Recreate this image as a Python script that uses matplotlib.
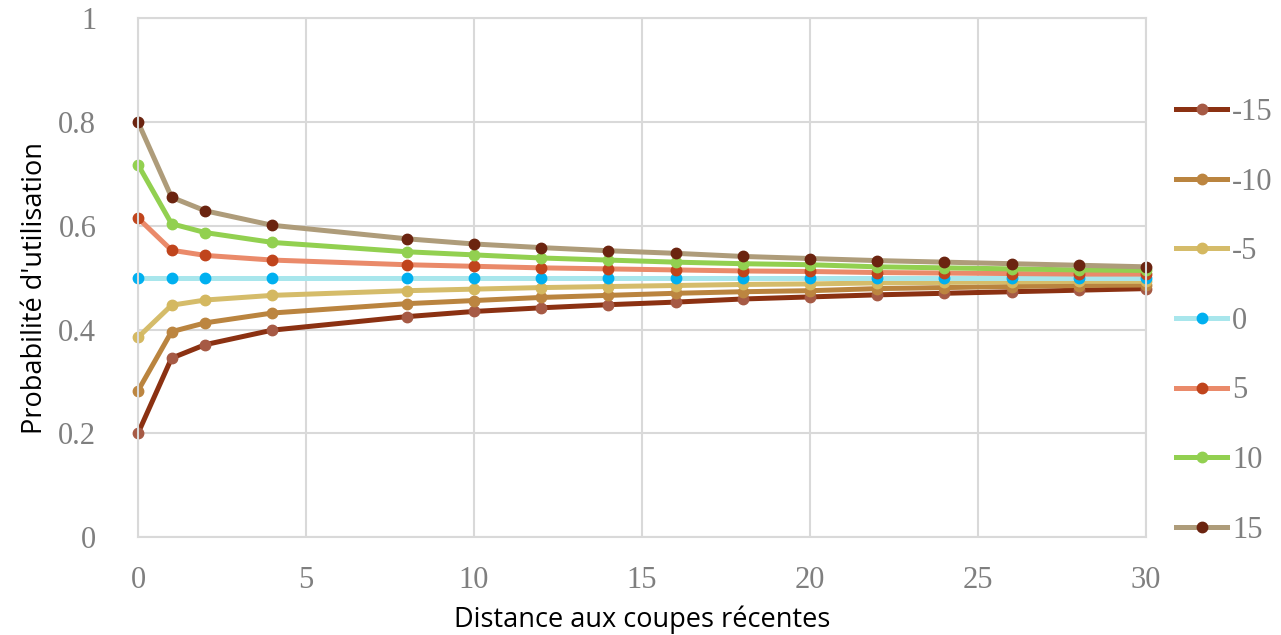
import matplotlib.pyplot as plt
from matplotlib.ticker import FuncFormatter

# distance to recent cuts (x) and usage probability per series
distance = [0, 1, 2, 4, 8, 10, 12, 14, 16, 18, 20, 22, 24, 26, 28, 30]

series_labels = ['-15', '-10', '-5', '0', '5', '10', '15']

p_m15 = [0.200, 0.345, 0.371, 0.399, 0.425, 0.435, 0.442, 0.448, 0.453, 0.459, 0.463, 0.467, 0.470, 0.473, 0.476, 0.479]
p_m10 = [0.282, 0.396, 0.413, 0.432, 0.450, 0.456, 0.462, 0.466, 0.470, 0.473, 0.475, 0.479, 0.481, 0.483, 0.485, 0.486]
p_m5 = [0.385, 0.447, 0.457, 0.466, 0.475, 0.478, 0.481, 0.483, 0.485, 0.487, 0.488, 0.490, 0.491, 0.492, 0.493, 0.493]
p_0 = [0.500] * 16
p_5 = [0.615, 0.553, 0.543, 0.534, 0.525, 0.522, 0.519, 0.517, 0.515, 0.513, 0.512, 0.510, 0.509, 0.508, 0.507, 0.507]
p_10 = [0.718, 0.604, 0.587, 0.568, 0.550, 0.544, 0.538, 0.534, 0.530, 0.527, 0.525, 0.521, 0.519, 0.517, 0.515, 0.514]
p_15 = [0.800, 0.655, 0.629, 0.601, 0.575, 0.565, 0.558, 0.552, 0.547, 0.541, 0.537, 0.533, 0.530, 0.527, 0.524, 0.521]

all_series = [p_m15, p_m10, p_m5, p_0, p_5, p_10, p_15]

line_colors = ['#8B3112', '#BA843F', '#D5BC6A', '#A8E6EC', '#EA8A6A', '#92D050', '#AE9C7A']
marker_colors = ['#A65A45', '#BC8540', '#D4B860', '#00B0F0', '#C0441C', '#92D050', '#6B2410']

fig = plt.figure(figsize=(12.81, 6.35), dpi=100)
ax = fig.add_axes([0.1077, 0.154, 0.7869, 0.8173])

for vals, lab, lc, mc in zip(all_series, series_labels, line_colors, marker_colors):
    ax.plot(distance, vals, color=lc, linewidth=3.6, marker='o', markersize=7.5,
            markerfacecolor=mc, markeredgecolor=mc, label=lab, clip_on=False)

ax.set_xlim(0, 30)
ax.set_ylim(0, 1)
ax.set_xticks([0, 5, 10, 15, 20, 25, 30])
ax.set_yticks([0, 0.2, 0.4, 0.6, 0.8, 1.0])
ax.yaxis.set_major_formatter(FuncFormatter(lambda v, _: '%g' % v))

ax.grid(True, color='#d9d9d9', linewidth=1.5)
ax.set_axisbelow(True)
for sp in ax.spines.values():
    sp.set_color('#d9d9d9')
    sp.set_linewidth(1.5)

ax.tick_params(axis='y', length=0, labelsize=22, labelcolor='#7f7f7f', pad=30)
ax.tick_params(axis='x', length=0, labelsize=22, labelcolor='#7f7f7f', pad=21)
for t in ax.get_xticklabels() + ax.get_yticklabels():
    t.set_family('Liberation Serif')

ax.set_xlabel('Distance aux coupes récentes', fontsize=19.5, family='Open Sans', labelpad=7)
ax.set_ylabel("Probabilité d'utilisation", fontsize=19.5, family='Open Sans')
ax.yaxis.set_label_coords(-0.088, 0.48)

leg = ax.legend(loc='center left', bbox_to_anchor=(1.0298, 0.416), frameon=False,
                prop={'family': 'Liberation Serif', 'size': 22},
                handlelength=1.67, handletextpad=0.16, labelspacing=1.33,
                borderaxespad=0, borderpad=0)
for t in leg.get_texts():
    t.set_color('#7f7f7f')

fig.savefig('out.png', dpi=100)
